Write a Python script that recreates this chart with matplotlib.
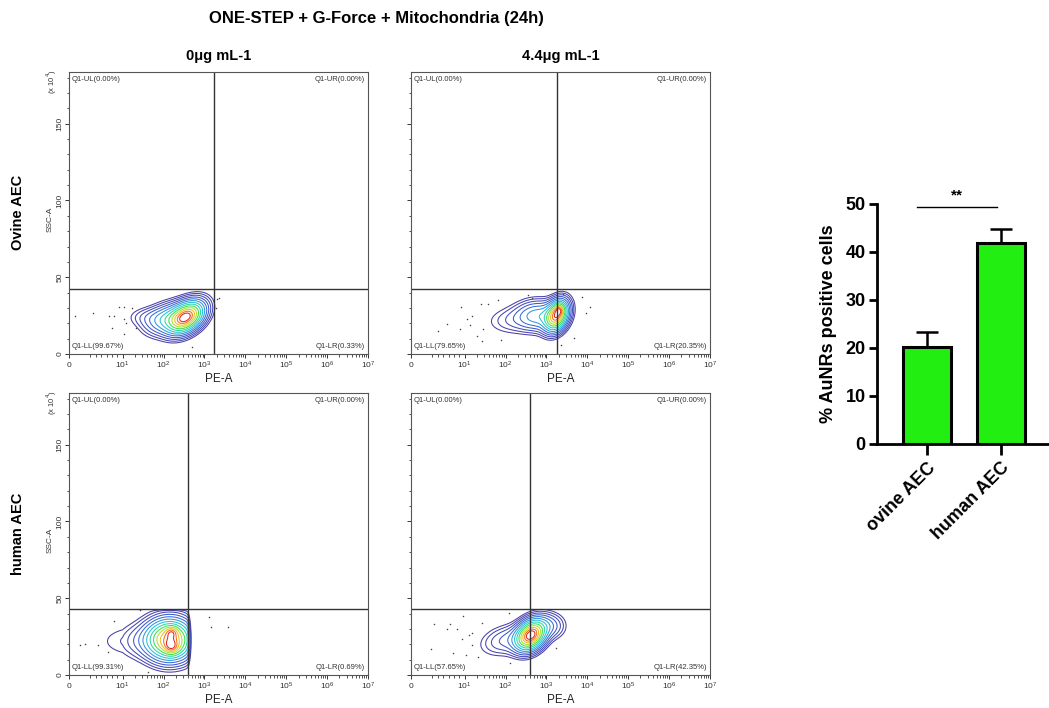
import numpy as np
import matplotlib.pyplot as plt
from matplotlib.colors import LinearSegmentedColormap

plt.rcParams['font.family'] = ['Liberation Sans', 'DejaVu Sans']

# ---- flow panels ----
row_names = ['Ovine AEC', 'human AEC']
col_names = ['0μg mL-1', '4.4μg mL-1']
gate_x = [[1700, 1780], [400, 390]]
gate_y = [[42.2, 42.5], [43.0, 43.0]]
# UL, UR, LL, LR percentages
quad_pct = [[(0.00, 0.00, 99.67, 0.33), (0.00, 0.00, 79.65, 20.35)],
            [(0.00, 0.00, 99.31, 0.69), (0.00, 0.00, 57.65, 42.35)]]

# population shape: (log10 PE centre, SSC centre, sd log, sd SSC, rho, weight)
blobs_tl = [(2.56, 24, 0.26, 6.2, 0.4, 1.0), (2.1, 23, 0.32, 6.0, 0.3, 0.3),
            (1.6, 24, 0.3, 4.0, 0.0, 0.06)]
blobs_tr = [(3.25, 25, 0.17, 6.0, 0.3, 1.0), (3.32, 29, 0.08, 2.5, 0.0, 0.3),
            (2.8, 25, 0.32, 5.8, 0.0, 0.3), (2.2, 22, 0.4, 5.5, 0.1, 0.08)]
blobs_bl = [(2.15, 23, 0.35, 8.0, 0.0, 1.0), (2.2, 18, 0.12, 3.0, 0.0, 0.3),
            (2.2, 28, 0.10, 2.5, 0.0, 0.25), (1.35, 22, 0.35, 7.0, 0.0, 0.08)]
blobs_br = [(2.62, 26, 0.22, 6.0, 0.3, 1.0), (2.05, 23, 0.38, 6.0, 0.3, 0.12),
            (3.10, 32, 0.22, 5.0, 0.0, 0.12)]
blobs = [[blobs_tl, blobs_tr], [blobs_bl, blobs_br]]
cut_x = [[None, None], [2.63, None]]
cut_y = [[None, None], [42.8, None]]

# scattered events (PE, SSC)
dots_tl_x = [1.1, 4.4, 7.5, 8.4, 8.1, 9.4, 10.5, 16.6, 10.7, 12.0, 10.7, 21.4, 490, 2000, 2290, 1900]
dots_tl_y = [24.7, 27, 25, 24.7, 16.7, 30.7, 30.7, 30, 23, 20, 13, 16.7, 4.3, 35.5, 36.8, 30]
dots_tr_x = [5.1, 6.7, 9.4, 9.2, 11.5, 15.1, 20, 27, 24.5, 37, 65, 355, 447, 2510, 7400,
             9330, 11500, 4680, 76, 2290, 13.8, 28]
dots_tr_y = [14.8, 19.8, 30.6, 16.5, 23, 25, 12, 8.3, 32.8, 32.4, 35.4, 38.3, 36.5, 39.3, 37,
             27, 30.6, 10.4, 9.3, 6.1, 18.7, 16.5]
dots_bl_x = [2.0, 2.9, 5.4, 7.3, 27, 41, 1320, 1450, 3720, 8.4]
dots_bl_y = [19.7, 20.3, 19.3, 15, 42.4, 1.9, 37.7, 31.2, 31.2, 35.5]
dots_br_x = [4.2, 3.7, 7.3, 6.7, 8.6, 9.7, 9.5, 12.6, 15.1, 15.1, 7.8, 11, 20.9, 27, 120, 126, 1700]
dots_br_y = [33, 17, 33.3, 30, 30, 38.3, 23.6, 25.8, 27.3, 19.3, 14.3, 13.2, 11.7, 33.8, 40.5, 7.8, 17.5]
dots_x = [[dots_tl_x, dots_tr_x], [dots_bl_x, dots_br_x]]
dots_y = [[dots_tl_y, dots_tr_y], [dots_bl_y, dots_br_y]]

# ---- bar chart ----
groups = ['ovine AEC', 'human AEC']
pct_pos = [20.3, 41.8]
pct_err = [3.1, 3.0]

flow_cmap = LinearSegmentedColormap.from_list(
    'flow', ['#4a3fa8', '#3a5fd0', '#2f9ee0', '#26cfd8', '#2fdc8c', '#46e03a',
             '#b8e02a', '#f0c020', '#f07a20', '#e02a20'])

fig = plt.figure(figsize=(10.49, 7.08), dpi=100)
fig.text(0.359, 0.974, 'ONE-STEP + G-Force + Mitochondria (24h)', ha='center', va='center',
         fontsize=12, fontweight='bold')

lefts = [0.0658, 0.3918]
bottoms = [0.5, 0.0466]
major_x = [0, 10, 1e2, 1e3, 1e4, 1e5, 1e6, 1e7]
major_lbl = [r'$\mathdefault{0}$'] + [r'$\mathdefault{10^{%d}}$' % k for k in range(1, 8)]
minor_x = [4, 5, 6, 7, 8, 9] + [m * 10 ** d for d in range(1, 7) for m in range(2, 10)]

lx = np.linspace(0.6, 4.6, 400)
yy = np.linspace(0, 60, 300)
LX, YY = np.meshgrid(lx, yy)
radii = np.linspace(2.7, 0.45, 13)

for r in range(2):
    for c in range(2):
        ax = fig.add_axes([lefts[c], bottoms[r], 0.285, 0.399])
        ax.set_xscale('symlog', linthresh=10, linscale=1.18)
        ax.set_xlim(0, 1e7)
        ax.set_ylim(0, 184)

        dens = np.zeros_like(LX)
        for (mx, my, sx, sy, rho, w) in blobs[r][c]:
            u = (LX - mx) / sx
            v = (YY - my) / sy
            dens += w * np.exp(-0.5 * (u * u - 2 * rho * u * v + v * v) / (1 - rho ** 2))
        if cut_x[r][c] is not None:
            dens /= 1 + np.exp((LX - cut_x[r][c]) / 0.02)
        if cut_y[r][c] is not None:
            dens /= 1 + np.exp((YY - cut_y[r][c]) / 0.4)
        lev = dens.max() * np.exp(-0.5 * radii ** 2)
        ax.contour(10 ** LX, YY, dens, levels=lev, cmap=flow_cmap, linewidths=0.75)
        ax.scatter(dots_x[r][c], dots_y[r][c], s=1.2, color='#444444', lw=0)

        ax.axvline(gate_x[r][c], color='#333333', lw=1.0)
        ax.axhline(gate_y[r][c], color='#333333', lw=1.0)

        ul, ur, ll, lr = quad_pct[r][c]
        qs = dict(fontsize=5.5, color='#333333')
        ax.text(0.01, 0.985, 'Q1-UL(%.2f%%)' % ul, transform=ax.transAxes, ha='left', va='top', **qs)
        ax.text(0.99, 0.985, 'Q1-UR(%.2f%%)' % ur, transform=ax.transAxes, ha='right', va='top', **qs)
        ax.text(0.01, 0.015, 'Q1-LL(%.2f%%)' % ll, transform=ax.transAxes, ha='left', va='bottom', **qs)
        ax.text(0.99, 0.015, 'Q1-LR(%.2f%%)' % lr, transform=ax.transAxes, ha='right', va='bottom', **qs)

        ax.set_xticks(major_x)
        ax.set_xticklabels(major_lbl)
        ax.set_xticks(minor_x, minor=True)
        ax.set_yticks([0, 50, 100, 150])
        ax.set_yticks(np.arange(0, 181, 10), minor=True)
        ax.tick_params(which='major', length=3, width=0.7, labelsize=6, colors='#333333', pad=1.2)
        ax.tick_params(which='minor', length=1.8, width=0.6, colors='#333333')
        for sp in ax.spines.values():
            sp.set_color('#555555')
            sp.set_linewidth(0.8)
        ax.set_xlabel('PE-A', fontsize=8.5, labelpad=1, color='#222222')
        if c == 0:
            plt.setp(ax.get_yticklabels(), rotation=90, va='center')
            ax.text(-0.064, 0.477, 'SSC-A', transform=ax.transAxes, rotation=90, ha='center',
                    va='center', fontsize=6, color='#333333')
            ax.text(-0.058, 0.965, r'(x 10$^4$)', transform=ax.transAxes, rotation=90, ha='center',
                    va='center', fontsize=5.5, color='#333333')
        else:
            ax.set_yticklabels([])
        if r == 0:
            ax.set_title(col_names[c], fontsize=10.5, fontweight='bold', pad=8)
    fig.text(0.017, bottoms[r] + 0.2, row_names[r], rotation=90, ha='center', va='center',
             fontsize=10.5, fontweight='bold')

# ---- bar chart ----
bx = fig.add_axes([0.836, 0.3729, 0.164, 0.339])
pos = np.arange(len(groups))
bx.bar(pos, pct_pos, width=0.65, color='#22ee11', edgecolor='black', linewidth=2.2, zorder=2)
bx.errorbar(pos, pct_pos, yerr=[np.zeros(len(pct_err)), pct_err], fmt='none', ecolor='black',
            elinewidth=1.8, capsize=8, capthick=1.8, zorder=1)
bx.set_xlim(-0.676, 1.65)
bx.set_ylim(0, 50)
bx.set_yticks([0, 10, 20, 30, 40, 50])
bx.set_xticks(pos)
bx.set_xticklabels(groups, rotation=45, ha='right', rotation_mode='anchor')
for lab in bx.get_xticklabels() + bx.get_yticklabels():
    lab.set_fontweight('bold')
bx.tick_params(axis='y', length=6, width=2, labelsize=13, pad=2)
bx.tick_params(axis='x', length=8, width=2, labelsize=13, pad=3)
bx.spines['top'].set_visible(False)
bx.spines['right'].set_visible(False)
bx.spines['left'].set_linewidth(2)
bx.spines['bottom'].set_linewidth(2)
bx.set_ylabel('% AuNRs positive cells', fontsize=13, fontweight='bold', labelpad=6)
bx.plot([-0.135, 0.946], [49.3, 49.3], color='black', lw=1, clip_on=False)
bx.text(0.405, 50.3, '**', ha='center', va='bottom', fontsize=11, fontweight='bold')

fig.savefig('out.png', dpi=100)
